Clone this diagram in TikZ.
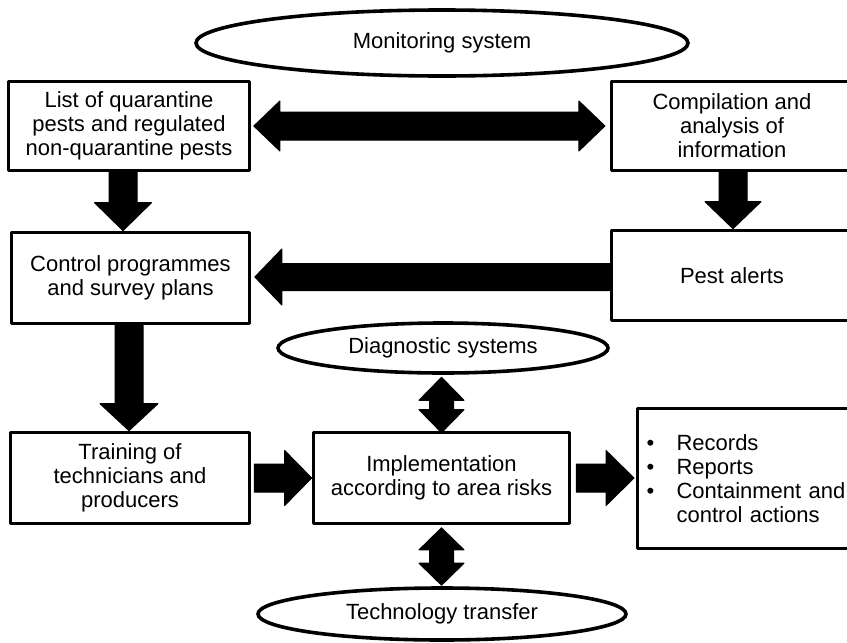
\documentclass[tikz,border=0pt]{standalone}
\usepackage{fontspec}
\setmainfont{Liberation Sans}
\usetikzlibrary{calc,shapes.geometric}
\newcommand\BlkArrow[5]{%
  \coordinate (ba-t) at #1; \coordinate (ba-h) at #2;
  \coordinate (ba-b) at ($(ba-h)!#5!(ba-t)$);
  \filldraw[arrowfill] ($(ba-t)!#3!90:(ba-h)$) -- ($(ba-b)!#3!-90:(ba-t)$) -- ($(ba-b)!#4!-90:(ba-t)$) -- (ba-h)
    -- ($(ba-b)!#4!90:(ba-t)$) -- ($(ba-b)!#3!90:(ba-t)$) -- ($(ba-t)!#3!-90:(ba-h)$) -- cycle;}
\newcommand\BlkDArrow[5]{%
  \coordinate (bd-a) at #1; \coordinate (bd-b) at #2;
  \coordinate (bd-1) at ($(bd-a)!#5!(bd-b)$);
  \coordinate (bd-2) at ($(bd-b)!#5!(bd-a)$);
  \filldraw[arrowfill] (bd-a) -- ($(bd-1)!#4!90:(bd-b)$) -- ($(bd-1)!#3!90:(bd-b)$) -- ($(bd-2)!#3!-90:(bd-a)$)
    -- ($(bd-2)!#4!-90:(bd-a)$) -- (bd-b) -- ($(bd-2)!#4!90:(bd-a)$) -- ($(bd-2)!#3!90:(bd-a)$)
    -- ($(bd-1)!#3!-90:(bd-b)$) -- ($(bd-1)!#4!-90:(bd-b)$) -- cycle;}
\begin{document}
\begin{tikzpicture}[x=1pt,y=-1pt,
  txt/.style={font=\fontsize{22}{24}\selectfont},
  box/.style={draw, line width=3.2pt, line join=round, align=center, inner sep=0pt, txt},
  ell/.style={ellipse, draw, line width=3.6pt, inner sep=0pt, txt},
  arrowfill/.style={fill=black, draw=black, line width=1pt, line join=round}]
\useasboundingbox (0,0) rectangle (847,643);
\clip (0,0) rectangle (847,643);
% ellipses
\node[ell, minimum width=492pt, minimum height=66pt] (mon) at (442,43) {Monitoring system};
\node[ell, minimum width=330pt, minimum height=50pt] (diag) at (443,348) {Diagnostic systems};
\node[ell, minimum width=368pt, minimum height=52pt] (tech) at (442,614) {Technology transfer};
% boxes
\node[box, minimum width=240.5pt, minimum height=88.5pt] (list) at (129,126) {List of quarantine\\pests and regulated\\non-quarantine pests};
\node[box, minimum width=241pt, minimum height=88.5pt] (comp) at (732,126) {Compilation and\\analysis of\\information};
\node[box, minimum width=237.5pt, minimum height=91.5pt] (control) at (130.5,278) {Control programmes\\and survey plans};
\node[box, minimum width=241pt, minimum height=90.5pt] (pest) at (732,275.5) {Pest alerts};
\node[box, minimum width=239.5pt, minimum height=91.5pt] (training) at (130,478) {Training of\\technicians and\\producers};
\node[box, minimum width=256.5pt, minimum height=91.5pt] (impl) at (441.5,478) {Implementation\\according to area risks};
\node[box, align=left, text width=206pt, inner xsep=9pt, minimum height=140.5pt, anchor=west] (records) at (636,478.5)
  {\makebox[30pt][l]{•}Records\\\makebox[30pt][l]{•}Reports\\\makebox[30pt][l]{•}Containment and\\\hspace*{30pt}control actions};
% arrows
\BlkDArrow{($(list.east)+(3,0)$)}{($(comp.west)+(-5,0)$)}{14pt}{25pt}{26pt}
\coordinate (a2t) at ($(list.south)+(-6,0)$);
\BlkArrow{(a2t)}{(a2t |- control.north)}{14pt}{28.5pt}{28pt}
\coordinate (a3t) at ($(comp.south)+(1,0)$);
\BlkArrow{(a3t)}{(a3t |- pest.north)}{14pt}{28pt}{27pt}
\coordinate (a4h) at ($(control.east)+(4,-1)$);
\BlkArrow{(pest.west |- a4h)}{(a4h)}{13.5pt}{28pt}{27pt}
\coordinate (a5t) at ($(control.south)+(-1.5,0)$);
\BlkArrow{(a5t)}{(a5t |- training.north)}{14pt}{29pt}{27pt}
\BlkArrow{($(training.east)+(3,0)$)}{(impl.west)}{14pt}{27.5pt}{27pt}
\coordinate (a7t) at ($(impl.east)+(5,0)$);
\BlkArrow{(a7t)}{($(records.west |- a7t)+(-2,0)$)}{14pt}{27.5pt}{28pt}
\BlkDArrow{($(impl.north |- diag.south)+(0,2.5)$)}{($(impl.north)+(0,2)$)}{12pt}{22.5pt}{23pt}
\BlkDArrow{($(impl.south)+(0,2.5)$)}{($(impl.south |- tech.north)+(0,-1)$)}{12pt}{22.5pt}{22pt}
\end{tikzpicture}
\end{document}
